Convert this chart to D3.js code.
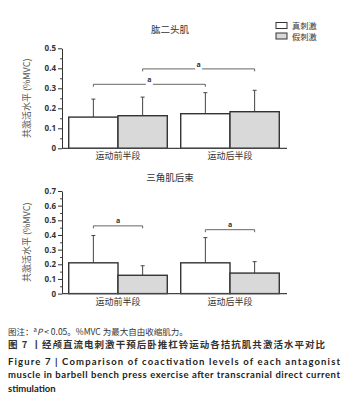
<!DOCTYPE html>
<html>
<head>
<meta charset="utf-8">
<script src="https://cdn.jsdelivr.net/npm/d3@7"></script>
<style>
    body { margin: 0; background: #fff; }
    svg { display: block; }
</style>
</head>
<body>
<div id="chart-container"></div>
<script>
// The categories and series
var groups = ["运动前半段", "运动后半段"];
var seriesNames = ["真刺激", "假刺激"];
var seriesFills = ["#ffffff", "#d9d9d9"];

// Biceps values (mean and SD per group)
var bicepsReal = [0.156, 0.173];
var bicepsSham = [0.163, 0.183];
var bicepsRealSD = [0.090, 0.105];
var bicepsShamSD = [0.093, 0.107];
var bicepsTicks = [0, 0.1, 0.2, 0.3, 0.4, 0.5];

// Posterior deltoid values
var deltoidReal = [0.21, 0.21];
var deltoidSham = [0.125, 0.14];
var deltoidRealSD = [0.186, 0.172];
var deltoidShamSD = [0.065, 0.078];
var deltoidTicks = [0, 0.1, 0.2, 0.3, 0.4, 0.5, 0.6, 0.7];

// Significance brackets: [group, series] to [group, series] at a level
var bicepsBrackets = [
    { from: [0, 0], to: [1, 0], level: 0.32 },
    { from: [0, 1], to: [1, 1], level: 0.397 }
];
var deltoidBrackets = [
    { from: [0, 0], to: [0, 1], level: 0.462 },
    { from: [1, 0], to: [1, 1], level: 0.436 }
];

var width = 350;
var height = 409;
var cjkFont = "'Noto Sans CJK SC', 'Noto Sans', sans-serif";
var tickFont = "'Open Sans', 'DejaVu Sans', sans-serif";

var svg = d3.select("#chart-container")
    .append("svg")
    .attr("width", width)
    .attr("height", height);

// X scales shared by both panels
var x0 = d3.scaleBand()
    .domain(groups)
    .range([62, 286])
    .paddingInner(0.12)
    .paddingOuter(0.06);

var x1 = d3.scaleBand()
    .domain(seriesNames)
    .range([0, x0.bandwidth()]);

// Draw one panel
function drawPanel(opts) {
    var y = d3.scaleLinear()
        .domain([0, opts.max])
        .range([opts.bottom, opts.top]);

    var g = svg.append("g");

    // Title
    g.append("text")
        .attr("x", 170)
        .attr("y", opts.titleY)
        .attr("text-anchor", "middle")
        .attr("font-family", cjkFont)
        .attr("font-size", 9.5)
        .attr("fill", "#333")
        .text(opts.title);

    // Bars
    var rows = groups.map(function (grp, i) {
        return [
            { group: grp, series: seriesNames[0], value: opts.real[i], sd: opts.realSD[i], fill: seriesFills[0] },
            { group: grp, series: seriesNames[1], value: opts.sham[i], sd: opts.shamSD[i], fill: seriesFills[1] }
        ];
    });
    var flat = [].concat.apply([], rows);

    // Error bars (behind the bars)
    g.selectAll(".err")
        .data(flat)
        .enter().append("line")
        .attr("x1", d => x0(d.group) + x1(d.series) + x1.bandwidth() / 2)
        .attr("x2", d => x0(d.group) + x1(d.series) + x1.bandwidth() / 2)
        .attr("y1", d => y(d.value))
        .attr("y2", d => y(d.value + d.sd))
        .attr("stroke", "#444")
        .attr("stroke-width", 1);

    g.selectAll(".cap")
        .data(flat)
        .enter().append("line")
        .attr("x1", d => x0(d.group) + x1(d.series) + x1.bandwidth() / 2 - 2)
        .attr("x2", d => x0(d.group) + x1(d.series) + x1.bandwidth() / 2 + 2)
        .attr("y1", d => y(d.value + d.sd))
        .attr("y2", d => y(d.value + d.sd))
        .attr("stroke", "#444")
        .attr("stroke-width", 1);

    g.selectAll(".bar")
        .data(flat)
        .enter().append("rect")
        .attr("x", d => x0(d.group) + x1(d.series))
        .attr("y", d => y(d.value))
        .attr("width", x1.bandwidth())
        .attr("height", d => y(0) - y(d.value))
        .attr("fill", d => d.fill)
        .attr("stroke", "#333")
        .attr("stroke-width", 1.4);

    // Brackets
    opts.brackets.forEach(function (b) {
        var xa = x0(groups[b.from[0]]) + x1(seriesNames[b.from[1]]) + x1.bandwidth() / 2;
        var xb = x0(groups[b.to[0]]) + x1(seriesNames[b.to[1]]) + x1.bandwidth() / 2;
        var yy = y(b.level);
        g.append("path")
            .attr("d", `M${xa},${yy + 2.5}V${yy}H${xb}V${yy + 2.5}`)
            .attr("fill", "none")
            .attr("stroke", "#555")
            .attr("stroke-width", 0.9);
        // Top panel letters sit in a gap of the line
        if (opts.gap) {
            g.append("rect")
                .attr("x", (xa + xb) / 2 - 3.5)
                .attr("y", yy - 7)
                .attr("width", 7)
                .attr("height", 8)
                .attr("fill", "#fff");
        }
        g.append("text")
            .attr("x", (xa + xb) / 2)
            .attr("y", yy - (opts.gap ? 2 : 3))
            .attr("text-anchor", "middle")
            .attr("font-family", tickFont)
            .attr("font-weight", "bold")
            .attr("font-size", 7)
            .attr("fill", "#333")
            .text("a");
    });

    // Y axis with minor ticks
    var minor = d3.range(0, opts.max + 0.001, 0.05).filter((d, i) => i % 2 == 1);
    var yMinor = g.append("g")
        .attr("transform", "translate(62,0)")
        .call(d3.axisLeft(y).tickValues(minor).tickSize(2).tickFormat(""));
    yMinor.select(".domain").remove();
    yMinor.selectAll("line").attr("stroke", "#444");

    var yAxis = g.append("g")
        .attr("transform", "translate(62,0)")
        .call(d3.axisLeft(y).tickValues(opts.ticks).tickSize(4).tickSizeOuter(0)
            .tickFormat(d => d == 0 ? "0" : d3.format(".1f")(d)));
    yAxis.select(".domain").attr("stroke", "#333");
    yAxis.selectAll("line").attr("stroke", "#333");
    yAxis.selectAll("text")
        .attr("font-family", tickFont)
        .attr("font-weight", "bold")
        .attr("font-size", 8)
        .attr("fill", "#333")
        .attr("x", -6);

    // X axis line
    g.append("line")
        .attr("x1", 62)
        .attr("x2", 287)
        .attr("y1", y(0))
        .attr("y2", y(0))
        .attr("stroke", "#444")
        .attr("stroke-width", 1.2);

    // X labels
    g.selectAll(".xlab")
        .data(groups)
        .enter().append("text")
        .attr("x", d => x0(d) + x0.bandwidth() / 2)
        .attr("y", y(0) + 11)
        .attr("text-anchor", "middle")
        .attr("font-family", cjkFont)
        .attr("font-size", 9)
        .attr("fill", "#333")
        .text(d => d);

    // Y label
    g.append("text")
        .attr("transform", `translate(30,${(opts.top + opts.bottom) / 2}) rotate(-90)`)
        .attr("text-anchor", "middle")
        .attr("font-family", cjkFont)
        .attr("font-size", 9)
        .attr("fill", "#555")
        .text("共激活水平 (%MVC)");
}

drawPanel({
    title: "肱二头肌", titleY: 33, max: 0.5, top: 48.3, bottom: 148.3,
    ticks: bicepsTicks, real: bicepsReal, sham: bicepsSham,
    realSD: bicepsRealSD, shamSD: bicepsShamSD, brackets: bicepsBrackets, gap: true
});

drawPanel({
    title: "三角肌后束", titleY: 181, max: 0.7, top: 191, bottom: 293.6,
    ticks: deltoidTicks, real: deltoidReal, sham: deltoidSham,
    realSD: deltoidRealSD, shamSD: deltoidShamSD, brackets: deltoidBrackets, gap: false
});

// Legend
var legend = svg.append("g").attr("transform", "translate(276,22.5)");
seriesNames.forEach(function (name, i) {
    legend.append("rect")
        .attr("x", 0)
        .attr("y", i * 10.5)
        .attr("width", 11)
        .attr("height", 6)
        .attr("fill", seriesFills[i])
        .attr("stroke", "#333")
        .attr("stroke-width", 1);
    legend.append("text")
        .attr("x", 16)
        .attr("y", i * 10.5 + 6.5)
        .attr("font-family", cjkFont)
        .attr("font-size", 8.2)
        .attr("fill", "#333")
        .text(name);
});

// Caption
var note = svg.append("text")
    .attr("x", 8)
    .attr("y", 335)
    .attr("font-family", cjkFont)
    .attr("font-size", 8.5)
    .attr("fill", "#333");
note.append("tspan").text("图注：");
note.append("tspan").attr("font-size", 6).attr("dy", -3).text("a");
note.append("tspan").attr("font-style", "italic").attr("dy", 3).text("P");
note.append("tspan").text(" < 0.05。%MVC 为最大自由收缩肌力。");

svg.append("text")
    .attr("x", 8)
    .attr("y", 347.5)
    .attr("font-family", cjkFont)
    .attr("font-size", 9.5)
    .attr("font-weight", "bold")
    .attr("fill", "#333")
    .attr("textLength", 317)
    .attr("lengthAdjust", "spacing")
    .text("图 7 丨经颅直流电刺激干预后卧推杠铃运动各拮抗肌共激活水平对比");

var englishLines = [
    { text: "Figure 7  |  Comparison of coactivation levels of each antagonist", y: 365, fit: true },
    { text: "muscle in barbell bench press exercise after transcranial direct current", y: 377.5, fit: true },
    { text: "stimulation", y: 391.5, fit: false }
];
englishLines.forEach(function (l) {
    var t = svg.append("text")
        .attr("x", 8)
        .attr("y", l.y)
        .attr("font-family", "Lato, 'Open Sans', sans-serif")
        .attr("font-size", 9.5)
        .attr("font-weight", "bold")
        .attr("fill", "#222")
        .text(l.text);
    if (l.fit) t.attr("textLength", 332).attr("lengthAdjust", "spacing");
});
</script>
</body>
</html>
